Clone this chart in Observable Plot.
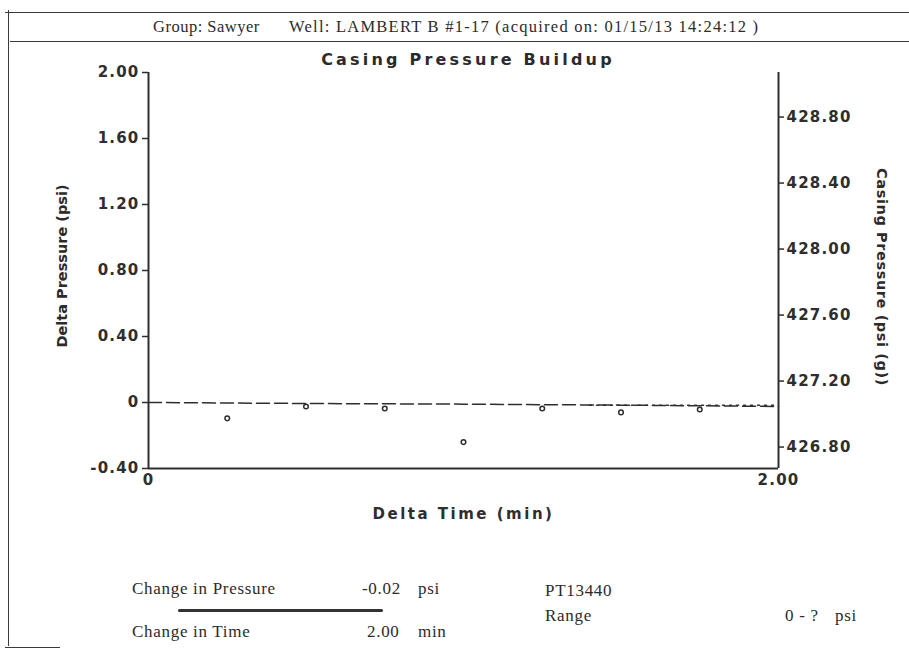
<!DOCTYPE html>
<html>
<head>
<meta charset="utf-8">
<script src="https://cdn.jsdelivr.net/npm/d3@7"></script>
<script src="https://cdn.jsdelivr.net/npm/@observablehq/plot@0.6"></script>
<style>
  body { margin: 0; background: #fff; }
  #page { position: relative; width: 909px; height: 654px; background: #fff; overflow: hidden; color: #2b2b2b; }
  .abs { position: absolute; white-space: nowrap; }
  .serif { font-family: "Liberation Serif", "DejaVu Serif", serif; font-size: 17px; letter-spacing: 0.7px; }
  .bold { font-family: "DejaVu Sans", sans-serif; font-weight: bold; }
  .hline { position: absolute; height: 0; border-top: 1.5px solid #3a3a3a; }
  .vline { position: absolute; width: 0; border-left: 1.5px solid #3a3a3a; }
  #chart { position: absolute; left: 0; top: 44px; }
  #chart svg text { letter-spacing: 1.2px; }
  #chart g[aria-label="x-axis label"] text { letter-spacing: 2.5px; font-size: 15px; }
</style>
</head>
<body>
<div id="page">
  <div class="hline" style="left:5px; top:12px; width:904px;"></div>
  <div class="hline" style="left:10px; top:41px; width:899px;"></div>
  <div class="vline" style="left:8px; top:10px; height:636px;"></div>
  <div class="hline" style="left:5px; top:647px; width:55px;"></div>

  <div class="abs serif" style="left:153px; top:17px; font-size:16.5px; letter-spacing:0.5px;">Group: Sawyer</div>
  <div class="abs serif" style="left:289px; top:17px; font-size:16.5px; letter-spacing:1.25px;">Well: LAMBERT B #1-17 (acquired on: 01/15/13 14:24:12 )</div>

  <div class="abs bold" style="left:0; width:936px; text-align:center; top:50px; font-size:16px; letter-spacing:3.2px;">Casing Pressure Buildup</div>

  <div class="abs bold" style="left:62px; top:266px; font-size:14.5px; transform:translate(-50%,-50%) rotate(-90deg);">Delta Pressure (psi)</div>
  <div class="abs bold" style="left:882px; top:277px; font-size:14.5px; letter-spacing:0.6px; transform:translate(-50%,-50%) rotate(90deg);">Casing Pressure (psi (g))</div>

  <div id="chart"></div>

  <div class="abs serif" style="left:132px; top:579px;">Change in Pressure</div>
  <div class="abs serif" style="left:362px; top:579px;">-0.02</div>
  <div class="abs serif" style="left:418px; top:579px;">psi</div>
  <div class="abs" style="left:178px; top:609px; width:205px; height:3px; background:#333; border-radius:2px;"></div>
  <div class="abs serif" style="left:132px; top:622px;">Change in Time</div>
  <div class="abs serif" style="left:367px; top:622px;">2.00</div>
  <div class="abs serif" style="left:418px; top:622px;">min</div>

  <div class="abs serif" style="left:545px; top:581px;">PT13440</div>
  <div class="abs serif" style="left:545px; top:606px;">Range</div>
  <div class="abs serif" style="left:785px; top:606px;">0 - ?</div>
  <div class="abs serif" style="left:835px; top:606px;">psi</div>
</div>
<script>
// Sampled points: delta time (min) vs delta pressure (psi)
const sampleTimes = [0.25, 0.5, 0.75, 1.0, 1.25, 1.5, 1.75];
const sampleDelta = [-0.096, -0.024, -0.036, -0.24, -0.036, -0.06, -0.042];

// Dashed casing-pressure trace
const traceTimes = [0, 0.5, 1.0, 1.5, 2.0];
const traceDelta = [0, -0.006, -0.01, -0.016, -0.024];

// Dotted reference segment
const refTimes = [1.4, 2.0];
const refDelta = [-0.016, -0.016];

// Axis ticks
const leftTicks = [-0.4, 0, 0.4, 0.8, 1.2, 1.6, 2.0];
const rightTicks = [426.8, 427.2, 427.6, 428.0, 428.4, 428.8];
const rightOffset = 427.07; // casing pressure at delta 0
const xTicks = [0, 2];

const points = sampleTimes.map((t, i) => ({t, d: sampleDelta[i]}));
const trace = traceTimes.map((t, i) => ({t, d: traceDelta[i]}));
const ref = refTimes.map((t, i) => ({t, d: refDelta[i]}));

const ink = "#2e2e2e";
const chart = Plot.plot({
  width: 909,
  height: 500,
  marginLeft: 148,
  marginRight: 131,
  marginTop: 28,
  marginBottom: 76,
  x: {domain: [0, 2]},
  y: {domain: [-0.4, 2.0]},
  style: {fontFamily: "DejaVu Sans, sans-serif", fontWeight: "bold", fontSize: "15px", color: ink, background: "transparent", overflow: "visible"},
  marks: [
    Plot.ruleX([0, 2], {stroke: ink, strokeWidth: 2}),
    Plot.ruleY([-0.4], {stroke: ink, strokeWidth: 2}),
    Plot.axisY(leftTicks, {anchor: "left", tickSize: 6, tickPadding: 3, tickFormat: d => d === 0 ? "0" : d.toFixed(2), label: null, stroke: ink, strokeWidth: 1.5}),
    Plot.axisY(rightTicks.map(v => v - rightOffset), {anchor: "right", tickSize: 5, tickPadding: 3, tickFormat: d => (d + rightOffset).toFixed(2), label: null, stroke: ink, strokeWidth: 1.5}),
    Plot.axisX(xTicks, {tickSize: 0, tickPadding: 6, tickFormat: d => d === 0 ? "0" : d.toFixed(2), label: "Delta Time (min)", labelAnchor: "center", labelArrow: "none", labelOffset: 50}),
    Plot.line(trace, {x: "t", y: "d", stroke: ink, strokeWidth: 1.5, strokeDasharray: "13,5"}),
    Plot.line(ref, {x: "t", y: "d", stroke: ink, strokeWidth: 1.5, strokeDasharray: "2,5"}),
    Plot.dot(points, {x: "t", y: "d", r: 2.3, stroke: ink, strokeWidth: 1.5, fill: "white"})
  ]
});
document.getElementById("chart").appendChild(chart);
</script>
</body>
</html>
